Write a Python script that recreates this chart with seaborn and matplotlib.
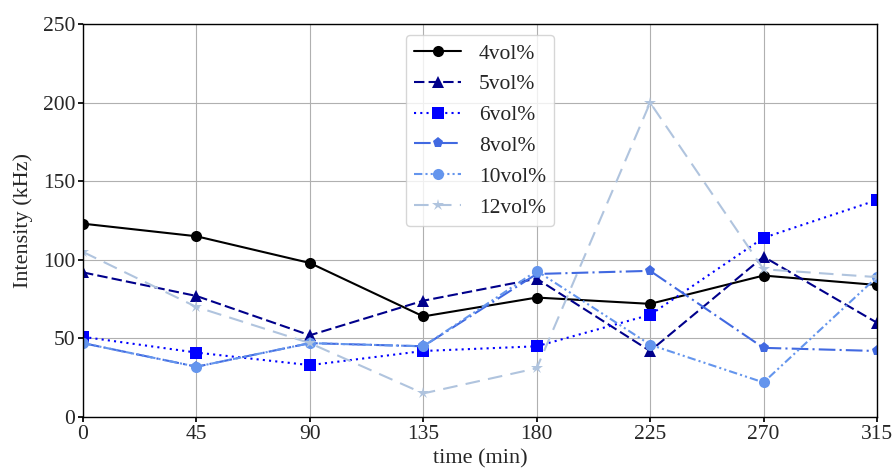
import numpy as np
import pandas as pd
import seaborn as sns
import matplotlib
matplotlib.use("Agg")
import matplotlib.pyplot as plt

time = [0, 45, 90, 135, 180, 225, 270, 315]
labels = ["4vol%", "5vol%", "6vol%", "8vol%", "10vol%", "12vol%"]
v4 = [123, 115, 98, 64, 76, 72, 90, 84]
v5 = [92, 77, 52, 74, 88, 42, 102, 60]
v6 = [51, 41, 33, 42, 45, 65, 114, 138]
v8 = [47, 32, 47, 45, 91, 93, 44, 42]
v10 = [47, 32, 47, 45, 93, 46, 22, 89]
v12 = [105, 70, 47, 15, 31, 200, 94, 89]
series = [v4, v5, v6, v8, v10, v12]

colors = ["black", "darkblue", "blue", "royalblue", "cornflowerblue", "lightsteelblue"]
markers = ["o", "^", "s", "p", "o", "*"]
styles = ["-", (0, (5, 2)), (0, (1, 2)), (0, (8, 2, 1, 2)), (0, (4, 1.5, 1, 1.5, 1, 1.5)), (0, (7, 4))]

sns.set_theme(style="whitegrid")
plt.rcParams["font.family"] = ["Liberation Serif", "DejaVu Serif"]
plt.rcParams["mathtext.fontset"] = "stix"

fig = plt.figure(figsize=(8.93, 4.72), dpi=100)
ax = fig.add_axes([0.093, 0.1165, 0.889, 0.8325])

for lab, vals, c, m, ls in zip(labels, series, colors, markers, styles):
    df = pd.DataFrame({"time": time, "val": vals})
    sns.lineplot(data=df, x="time", y="val", ax=ax, color=c, marker=m,
                 markersize=8 if m != "*" else 9, markeredgewidth=0,
                 linewidth=1.5, label=lab)
    ax.lines[-1].set_linestyle(ls)

ax.set_xlim(0, 315)
ax.set_ylim(0, 250)
ax.set_xticks(time)
ax.set_yticks([0, 50, 100, 150, 200, 250])
ax.set_xlabel("time (min)", fontsize=16, labelpad=4)
ax.set_ylabel("Intensity (kHz)", fontsize=16, labelpad=7)
ax.tick_params(axis="both", labelsize=15.5, length=3.5, color="black", direction="out",
               bottom=True, left=True, pad=2)
ax.grid(True, color="#b0b0b0", linewidth=0.8)
for s in ax.spines.values():
    s.set_color("black")
    s.set_linewidth(1.0)
ax.set_facecolor("white")

leg = ax.legend(loc="upper center", bbox_to_anchor=(0.5, 1.0), fontsize=15.5,
                frameon=True, handlelength=2.2, handletextpad=0.8,
                labelspacing=0.5, borderpad=0.4)
leg.get_frame().set_edgecolor("#cccccc")

fig.savefig("out.png", dpi=100)
